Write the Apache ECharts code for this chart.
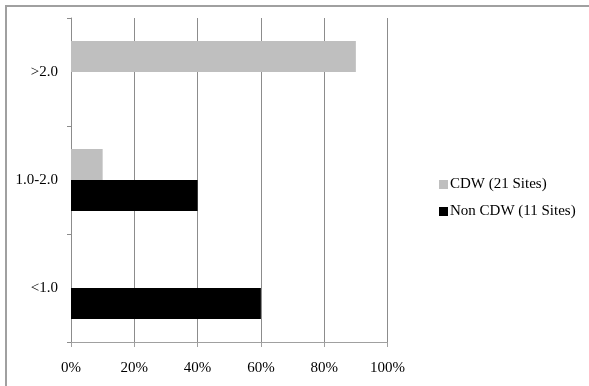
<!DOCTYPE html>
<html style="height: 100%">
<head>
    <meta charset="utf-8">
</head>
<body style="height: 100%; margin: 0; background: #fff">
<div id="container" style="width: 589px; height: 386px;"></div>

<script type="text/javascript" src="https://cdn.jsdelivr.net/npm/echarts@6/dist/echarts.min.js"></script>
<script type="text/javascript">
    // categories, bottom to top
    var categories = ['<1.0', '1.0-2.0', '>2.0'];
    var cdwValues = [0, 10, 90];
    var nonCdwValues = [60, 40, 0];
    var xTicks = [0, 20, 40, 60, 80, 100];

    var dom = document.getElementById("container");
    var myChart = echarts.init(dom);
    var font = 'Liberation Serif';

    var option = {
        animation: false,
        backgroundColor: '#fff',
        textStyle: { fontFamily: font },
        graphic: [{
            type: 'rect',
            shape: { x: 6, y: 6, width: 600, height: 400 },
            style: { fill: 'none', stroke: '#a0a0a0', lineWidth: 2 }
        }],
        legend: {
            orient: 'vertical',
            left: 434,
            top: 172,
            itemWidth: 9,
            itemHeight: 9,
            itemGap: 12,
            icon: 'rect',
            data: ['CDW (21 Sites)', 'Non CDW (11 Sites)'],
            textStyle: { fontFamily: font, fontSize: 15, color: '#000', padding: [0, 0, 0, -3] }
        },
        grid: { left: 71, top: 18, right: 201.5, bottom: 44 },
        xAxis: {
            type: 'value',
            min: xTicks[0],
            max: xTicks[xTicks.length - 1],
            interval: 20,
            axisLine: { show: true, lineStyle: { color: '#a0a0a0', width: 1 } },
            axisTick: { show: true, length: 5, lineStyle: { color: '#a0a0a0' } },
            splitLine: { show: true, lineStyle: { color: '#8c8c8c', width: 1 } },
            axisLabel: {
                formatter: '{value}%',
                margin: 19,
                fontFamily: font,
                fontSize: 15,
                color: '#000'
            }
        },
        yAxis: {
            type: 'category',
            data: categories,
            axisLine: { show: true, lineStyle: { color: '#8c8c8c', width: 1 } },
            axisTick: { show: true, length: 4, lineStyle: { color: '#8c8c8c' } },
            axisLabel: { margin: 13, fontFamily: font, fontSize: 15, color: '#000' }
        },
        series: [{
            name: 'CDW (21 Sites)',
            type: 'bar',
            data: cdwValues,
            barWidth: 31,
            barGap: '0%',
            itemStyle: { color: '#bfbfbf' }
        }, {
            name: 'Non CDW (11 Sites)',
            type: 'bar',
            data: nonCdwValues,
            barWidth: 31,
            barGap: '0%',
            itemStyle: { color: '#000' }
        }]
    };

    myChart.setOption(option);
</script>
</body>
</html>
